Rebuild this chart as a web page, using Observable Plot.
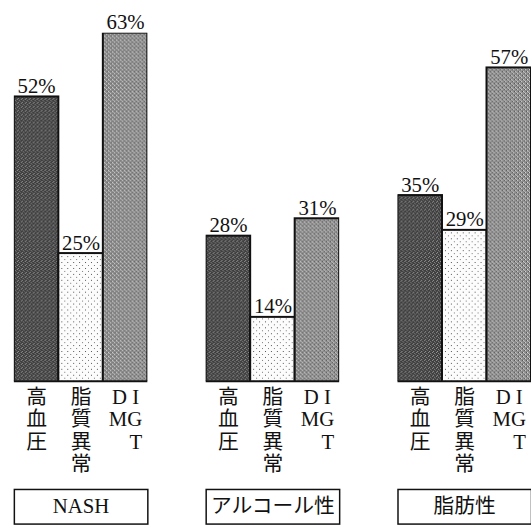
<!DOCTYPE html>
<html><head><meta charset="utf-8">
<script src="https://cdn.jsdelivr.net/npm/d3@7"></script>
<script src="https://cdn.jsdelivr.net/npm/@observablehq/plot@0.6"></script>
<style>
html,body{margin:0;padding:0;background:#fff;overflow:hidden;}
#chart svg{display:block;}
</style></head><body><div id="chart"></div>
<script>
// ---- data ----
const groups = ["NASH", "アルコール性", "脂肪性"];
const categories = ["高血圧", "脂質異常", "DM・IGT"];
const hypertension = [52, 28, 35];
const dyslipidemia = [25, 14, 29];
const dmIgt = [63, 31, 57];
const categoryTickLabels = ["高\n血\n圧", "脂\n質\n異\n常", "D I\nMG\n\u2003T"];
const yAxisStart = 3;   // the printed baseline sits a little above 0%
const yAxisEnd = 63;

const series = [hypertension, dyslipidemia, dmIgt];
const table = groups.flatMap((g, i) =>
  categories.map((c, j) => ({group: g, cat: c, value: series[j][i]})));

// ---- layout / style ----
const W = 537, ML = 13, MR = 0;
const font = "'Liberation Serif', 'Noto Sans CJK JP', serif";
const fxScale = {domain: groups, paddingInner: 0.306, paddingOuter: 0, axis: null};

const main = Plot.plot({
  width: W, height: 493,
  marginLeft: ML, marginRight: MR, marginTop: 33, marginBottom: 108,
  style: {fontFamily: font, fontSize: "20px", color: "#111", background: "transparent"},
  fx: fxScale,
  x: {domain: categories, padding: 0, axis: null},
  y: {domain: [yAxisStart, yAxisEnd], axis: null},
  color: {domain: categories, range: ["url(#texDark)", "url(#texLight)", "url(#texMid)"]},
  marks: [
    Plot.barY(table, {fx: "group", x: "cat", y: "value", fill: "cat",
      stroke: "#111", strokeWidth: 2, clip: true}),
    Plot.ruleY([yAxisStart], {stroke: "#111", strokeWidth: 2}),
    Plot.text(table, {fx: "group", x: "cat", y: "value", text: d => d.value + "%",
      lineAnchor: "bottom", dy: -4, fontSize: 21, fill: "#111"}),
    Plot.axisX({tickSize: 0, tickPadding: 7, label: null, lineHeight: 1.08, fontSize: 21,
      tickFormat: c => categoryTickLabels[categories.indexOf(c)]})
  ]
});

const defs = `
<pattern id="texDark" width="4" height="4" patternUnits="userSpaceOnUse">
  <rect width="4" height="4" fill="#3e3e3e"/>
  <rect x="0" y="0" width="1" height="1" fill="#9a9a9a"/>
  <rect x="2" y="1" width="1" height="1" fill="#8a8a8a"/>
  <rect x="1" y="3" width="1" height="1" fill="#a0a0a0"/>
  <rect x="3" y="2" width="1" height="1" fill="#707070"/>
</pattern>
<pattern id="texMid" width="4" height="4" patternUnits="userSpaceOnUse">
  <rect width="4" height="4" fill="#8c8c8c"/>
  <rect x="0" y="0" width="1" height="1" fill="#e0e0e0"/>
  <rect x="2" y="2" width="1" height="1" fill="#dcdcdc"/>
  <rect x="3" y="0" width="1" height="1" fill="#4a4a4a"/>
  <rect x="1" y="2" width="1" height="1" fill="#555"/>
  <rect x="1" y="1" width="1" height="1" fill="#bbb"/>
</pattern>
<pattern id="texLight" width="6" height="6" patternUnits="userSpaceOnUse">
  <rect width="6" height="6" fill="#fcfcfc"/>
  <rect x="1" y="1" width="1" height="1" fill="#555"/>
  <rect x="4" y="4" width="1" height="1" fill="#777"/>
</pattern>`;
d3.select(main).insert("defs", ":first-child").html(defs);

const boxes = Plot.plot({
  width: W, height: 39,
  marginLeft: ML, marginRight: MR, marginTop: 2, marginBottom: 2,
  style: {fontFamily: font, fontSize: "21px", color: "#111", background: "transparent"},
  fx: fxScale,
  marks: [
    Plot.frame({stroke: "#111", strokeWidth: 1.5}),
    Plot.text(groups, {fx: d => d, text: d => d, frameAnchor: "middle", fontSize: 21, fill: "#111"})
  ]
});

const root = document.getElementById("chart");
root.appendChild(main);
root.appendChild(boxes);
</script></body></html>
